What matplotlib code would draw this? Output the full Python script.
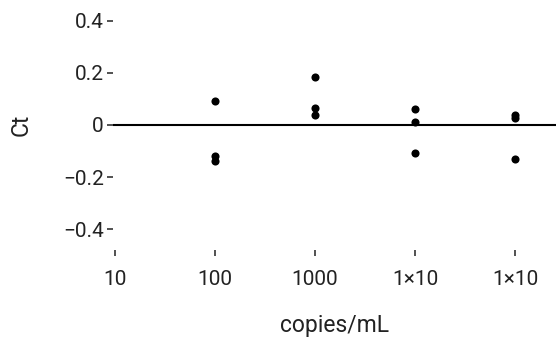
import numpy as np
import matplotlib.pyplot as plt

plt.rcParams['font.family'] = ['Roboto', 'DejaVu Sans']

# Данные: концентрация и отклонения Ct
copies = [100, 100, 100, 1000, 1000, 1000, 1e4, 1e4, 1e4, 1e5, 1e5, 1e5]
ct = [0.092, -0.119, -0.138, 0.185, 0.065, 0.038, 0.062, 0.012, -0.108, 0.038, 0.027, -0.131]

xticks = [10, 100, 1000, 1e4, 1e5]
xlabels = ["10", "100", "1000", "1×10", "1×10"]
yticks = [-0.4, -0.2, 0, 0.2, 0.4]
ylabels = ["\u22120.4", "\u22120.2", "0", "0.2", "0.4"]

fig = plt.figure(figsize=(5.56, 3.39), dpi=100)
ax = fig.add_axes([113 / 556, 89 / 339, (556 - 113) / 556, 250 / 339])

ax.axhline(0, color="black", lw=1.5, zorder=1)
ax.scatter(copies, ct, s=34, color="black", zorder=2, linewidths=0)

ax.set_xscale("log")
ax.set_xlim(10 ** (1 - 2 / 100), 10 ** (1 + 441 / 100))
ax.set_ylim(-0.48, 0.48)
ax.set_xticks(xticks)
ax.set_xticklabels(xlabels)
ax.xaxis.set_minor_locator(plt.NullLocator())
ax.set_yticks(yticks)
ax.set_yticklabels(ylabels)

for s in ax.spines.values():
    s.set_visible(False)
ax.tick_params(axis="both", length=4.5, width=1.2, color="#333333", labelsize=15, labelcolor="#222222")
ax.tick_params(axis="x", pad=10)
ax.tick_params(axis="y", pad=2)

ax.set_xlabel("copies/mL", fontsize=16.5, color="#222222", labelpad=18)
ax.set_ylabel("Ct", fontsize=16.5, color="#222222", labelpad=22)

fig.savefig("out.png", dpi=100)
